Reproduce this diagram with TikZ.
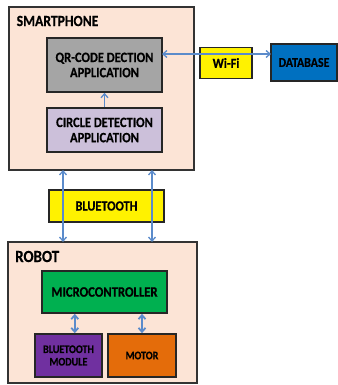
\documentclass[tikz,border=0pt]{standalone}
\usepackage{fontspec}
\setmainfont{Carlito}[FakeStretch=0.88,BoldFeatures={FakeStretch=0.88,FakeBold=0.6}]
\usetikzlibrary{arrows.meta}
\definecolor{peach}{HTML}{FCE4D6}
\definecolor{qrgray}{HTML}{A5A5A5}
\definecolor{lav}{HTML}{CCC0DA}
\definecolor{dbblue}{HTML}{0070C0}
\definecolor{mcgreen}{HTML}{00B050}
\definecolor{bmpurple}{HTML}{7030A0}
\definecolor{motororange}{HTML}{E46C0A}
\definecolor{arrowblue}{HTML}{5B8BCB}
\newcommand{\fs}[1]{\bfseries\fontsize{#1}{#1}\selectfont}
\begin{document}
\begin{tikzpicture}[x=1pt,y=-1pt,
  box/.style={draw=black!85,line width=1.6pt,inner sep=0pt,align=center},
  outer/.style={draw=black!80,line width=1.4pt,fill=peach},
  conn/.style={draw=arrowblue,line width=1.3pt,{Straight Barb[length=4pt,width=7pt]}-{Straight Barb[length=4pt,width=7pt]}},
  up/.style={draw=arrowblue,line width=1.3pt,-{Straight Barb[length=4pt,width=7pt]}},
  lbl/.style={anchor=west,inner sep=0pt}]
\useasboundingbox (0,0) rectangle (337,385);
% smartphone
\draw[outer] (9,7) rectangle (194,170);
\node[lbl,font=\fs{15.5}] (sp) at (16.5,21) {SMARTPHONE};
\node[box,fill=qrgray,minimum width=115pt,minimum height=54pt,font=\fs{14.2},align=center] (qr) at (104.5,65) {QR-CODE DECTION\\[1pt]APPLICATION};
\node[box,fill=lav,minimum width=115pt,minimum height=44pt,font=\fs{14.2}] (cd) at (104.5,130) {CIRCLE DETECTION\\[1pt]APPLICATION};
\draw[up] (cd.north) -- (qr.south);
% wifi and database
\node[box,fill=yellow,minimum width=52pt,minimum height=31pt,font=\fs{14}] (wf) at (226,63) {Wi-Fi};
\node[box,fill=dbblue,minimum width=66pt,minimum height=37pt,font=\fs{13.5}] (db) at (304,62.5) {DATABASE};
\coordinate (qrr) at (162,54);
\coordinate (dbl) at (271,54);
\draw[conn] (qrr) -- (dbl);
% bluetooth
\node[box,fill=yellow,minimum width=115pt,minimum height=32pt,font=\fs{14}] (bt) at (106.5,206) {BLUETOOTH};
% robot
\draw[outer] (8,242) rectangle (197,383);
\node[lbl,font=\fs{17}] (rb) at (15,256.5) {ROBOT};
\node[box,fill=mcgreen,minimum width=125pt,minimum height=42pt,font=\fs{14.4}] (mc) at (104.5,292) {MICROCONTROLLER};
\node[box,fill=bmpurple,minimum width=67pt,minimum height=43pt,font=\fs{11.5}] (bm) at (68.5,355.5) {BLUETOOTH\\[1pt]MODULE};
\node[box,fill=motororange,minimum width=68pt,minimum height=43pt,font=\fs{11.5}] (mo) at (142,355.5) {MOTOR};
\coordinate (s1) at (63,170);
\coordinate (r1) at (63,242);
\coordinate (s2) at (152,170);
\coordinate (r2) at (152,242);
\draw[conn] (s1) -- (r1);
\draw[conn] (s2) -- (r2);
\draw[conn,line width=1.8pt] (mc.south -| bm.north east) ++(-28,0) coordinate (m1) -- (m1 |- bm.north);
\draw[conn,line width=1.8pt] (mc.south -| mo.north) coordinate (m2) -- (m2 |- mo.north);
\end{tikzpicture}
\end{document}
